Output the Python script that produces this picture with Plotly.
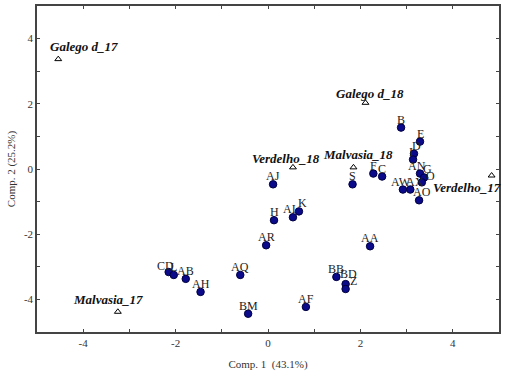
import plotly.graph_objects as go

# Active observations (dots)
obs_labels = ["B", "E", "D", "I", "AN", "G", "O", "AW", "AX", "AO", "F", "C", "S",
              "AJ", "H", "AI", "K", "AR", "AQ", "CD", "L", "AB", "AH", "BM", "AF",
              "BB", "BD", "Z", "AA"]
obs_x = [2.88, 3.29, 3.16, 3.14, 3.29, 3.38, 3.33, 2.92, 3.08, 3.27, 2.28, 2.47, 1.83,
         0.11, 0.13, 0.54, 0.67, -0.04, -0.60, -2.15, -2.04, -1.78, -1.46, -0.43, 0.82,
         1.48, 1.68, 1.68, 2.21]
obs_y = [1.27, 0.84, 0.47, 0.29, -0.14, -0.26, -0.41, -0.63, -0.63, -0.96, -0.14, -0.23, -0.47,
         -0.47, -1.57, -1.48, -1.30, -2.34, -3.25, -3.16, -3.25, -3.37, -3.77, -4.44, -4.23,
         -3.31, -3.53, -3.68, -2.37]

# Supplementary observations (triangles)
sup_labels = ["Galego d_17", "Galego d_18", "Verdelho_18", "Malvasia_18", "Verdelho_17", "Malvasia_17"]
sup_x = [-4.54, 2.11, 0.54, 1.85, 4.84, -3.25]
sup_y = [3.37, 2.03, 0.05, 0.05, -0.20, -4.38]

x_ticks = [-4, -2, 0, 2, 4]
y_ticks = [-4, -2, 0, 2, 4]

# label offsets (px)
sup_dx = [26, 5, -7, 5, -25, -10]
sup_dy = [13, 9, 9, 13, -12, 12]

obs_dx = {"AN": -3, "G": 3, "O": 9, "AW": -2, "AX": 5, "D": 3, "I": -2, "CD": -3,
          "AI": -3, "K": 4, "Z": 8, "BD": 3, "AO": 3}
obs_dy = {"O": 6, "CD": 6, "BD": 10, "Z": 8}

FONT = "Liberation Serif"

fig = go.Figure()
fig.add_trace(go.Scatter(
    x=obs_x, y=obs_y, mode="markers",
    marker=dict(symbol="circle", size=7.5, color="#0a0a8a",
                line=dict(color="#000040", width=1)),
    showlegend=False, cliponaxis=False))
fig.add_trace(go.Scatter(
    x=sup_x, y=sup_y, mode="markers",
    marker=dict(symbol="triangle-up-open", size=6, color="#000",
                line=dict(color="#000", width=1)),
    showlegend=False, cliponaxis=False))

for lab, xx, yy in zip(obs_labels, obs_x, obs_y):
    fig.add_annotation(x=xx, y=yy, text=lab, showarrow=False,
                       xshift=obs_dx.get(lab, 0), yshift=obs_dy.get(lab, 8),
                       font=dict(family=FONT, size=12, color="#222"))

for lab, xx, yy, dx, dy in zip(sup_labels, sup_x, sup_y, sup_dx, sup_dy):
    fig.add_annotation(x=xx, y=yy, text="<b><i>" + lab + "</i></b>", showarrow=False,
                       xshift=dx, yshift=dy,
                       font=dict(family=FONT, size=13, color="#111"))

axis_common = dict(
    showgrid=False, zeroline=False, showline=True, linecolor="#444", linewidth=1.5,
    mirror="ticks", ticks="inside", ticklen=3, tickcolor="#444",
    tickfont=dict(family=FONT, size=11, color="#333"),
    minor=dict(ticks="inside", dtick=1, ticklen=3, tickcolor="#444"),
)

fig.update_xaxes(range=[-5, 5], tickvals=x_ticks, ticktext=[str(v) for v in x_ticks],
                 title=dict(text="Comp. 1  (43.1%)", font=dict(family=FONT, size=11, color="#333"),
                            standoff=12),
                 **axis_common)
fig.update_yaxes(range=[-5, 5], tickvals=y_ticks, ticktext=[str(v) for v in y_ticks],
                 title=dict(text="Comp. 2 (25.2%)", font=dict(family=FONT, size=11, color="#333"),
                            standoff=6),
                 **axis_common)

fig.update_layout(
    width=509, height=377,
    margin=dict(l=37, r=10, t=4, b=45),
    plot_bgcolor="white", paper_bgcolor="white",
)

fig.write_html("out.html")
